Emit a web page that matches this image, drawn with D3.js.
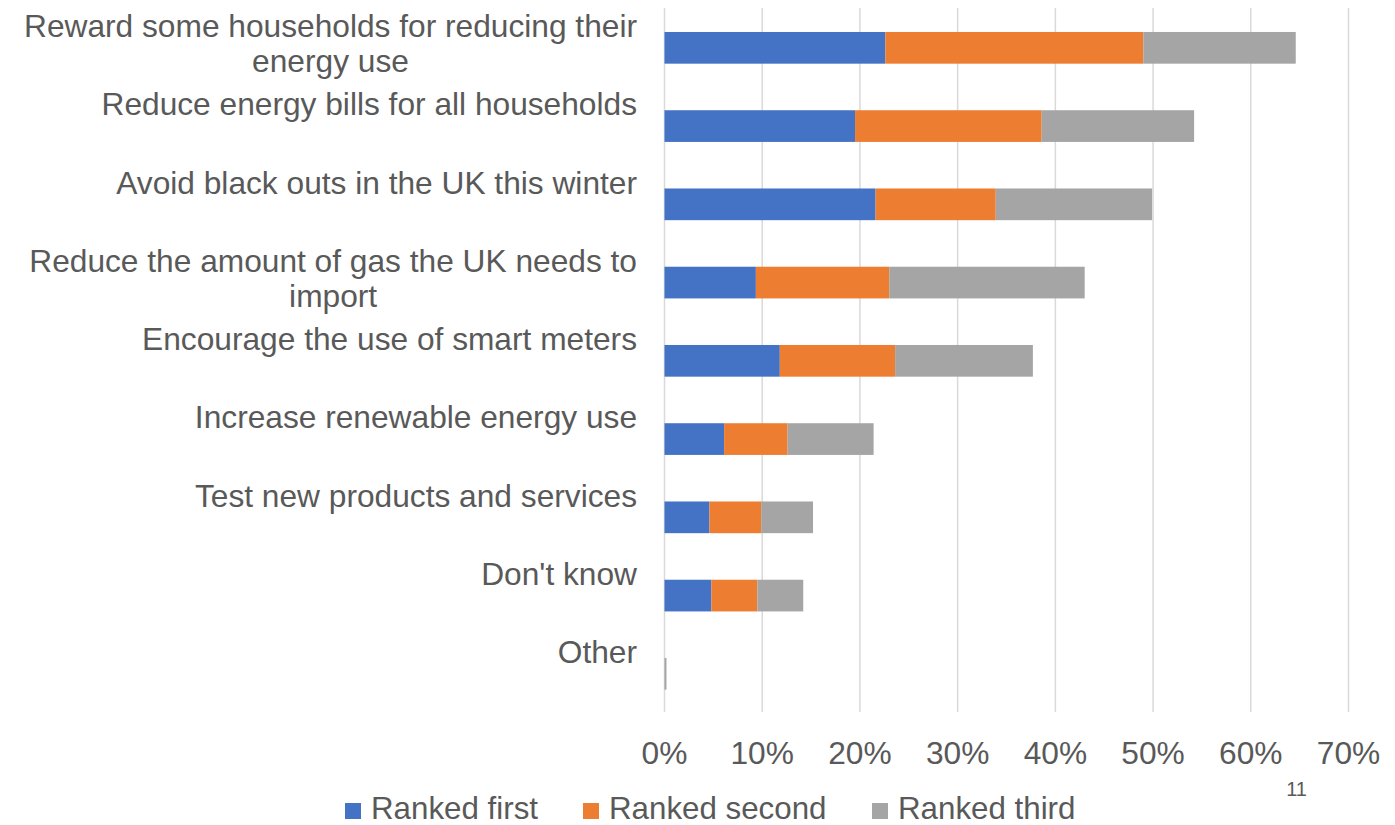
<!DOCTYPE html>
<html>
<head>
<meta charset="utf-8">
<script src="https://cdn.jsdelivr.net/npm/d3@7"></script>
<style>
  html, body { margin: 0; padding: 0; background: #ffffff; }
  svg { display: block; }
  text { font-family: "Liberation Sans", Arial, sans-serif; fill: #595959; }
</style>
</head>
<body>
<svg id="chart" width="1395" height="825"></svg>
<script>
// Survey answers, top to bottom; each label split into its display lines
const categories = [
  ["Reward some households for reducing their", "energy use"],
  ["Reduce energy bills for all households"],
  ["Avoid black outs in the UK this winter"],
  ["Reduce the amount of gas the UK needs to", "import"],
  ["Encourage the use of smart meters"],
  ["Increase renewable energy use"],
  ["Test new products and services"],
  ["Don't know"],
  ["Other"]
];

// Share of respondents (%) ranking each option
const rankedFirst  = [22.6, 19.5, 21.6, 9.35, 11.8, 6.1, 4.6, 4.8, 0];
const rankedSecond = [26.4, 19.1, 12.3, 13.65, 11.8, 6.5, 5.3, 4.7, 0];
const rankedThird  = [15.6, 15.6, 16.0, 20.0, 14.1, 8.8, 5.3, 4.7, 0.2];

const seriesNames = ["Ranked first", "Ranked second", "Ranked third"];
const seriesColors = ["#4472C4", "#ED7D31", "#A5A5A5"];
const tickValues = [0, 10, 20, 30, 40, 50, 60, 70];
const pageNumber = "11";

const FONT = 31.7;
const svg = d3.select("#chart");

const keys = categories.map((c, i) => "c" + i);
const rows = keys.map((k, i) => ({
  key: k,
  lines: categories[i],
  s0: rankedFirst[i],
  s1: rankedSecond[i],
  s2: rankedThird[i]
}));

const x = d3.scaleLinear().domain([0, 70]).range([664.5, 1348.5]);
const y = d3.scaleBand()
  .domain(keys)
  .range([8.7, 712.95])
  .paddingInner(0.595)
  .paddingOuter(0.2975);

// Vertical gridlines
svg.append("g")
  .selectAll("line")
  .data(tickValues)
  .join("line")
  .attr("x1", d => x(d))
  .attr("x2", d => x(d))
  .attr("y1", 8)
  .attr("y2", 712)
  .attr("stroke", "#D9D9D9")
  .attr("stroke-width", 1.5);

// Stacked bars
const stack = d3.stack().keys(["s0", "s1", "s2"]);
const layers = stack(rows);

svg.append("g")
  .selectAll("g")
  .data(layers)
  .join("g")
  .attr("fill", (d, i) => seriesColors[i])
  .selectAll("rect")
  .data(d => d)
  .join("rect")
  .attr("x", d => x(d[0]))
  .attr("width", d => Math.max(0, x(d[1]) - x(d[0])))
  .attr("y", d => y(d.data.key))
  .attr("height", y.bandwidth());

// Category labels (right aligned, first line sitting just above the bar centre)
const labelX = 637;
const labelG = svg.append("g");
rows.forEach(r => {
  const cy = y(r.key) + y.bandwidth() / 2;
  const t = labelG.append("text")
    .attr("font-size", FONT)
    .attr("y", cy - 10.8);
  r.lines.forEach((ln, j) => {
    t.append("tspan")
      .attr("x", labelX)
      .attr("dy", j === 0 ? 0 : 35)
      .attr("text-anchor", j === 0 ? "end" : "middle")
      .text(ln);
  });
});

// Second lines of wrapped labels are centred under the first line
labelG.selectAll("text").each(function () {
  const spans = d3.select(this).selectAll("tspan").nodes();
  if (spans.length > 1) {
    const w = spans[0].getComputedTextLength();
    spans.slice(1).forEach(s => d3.select(s).attr("x", labelX - w / 2));
  }
});

// X axis tick labels
svg.append("g")
  .selectAll("text")
  .data(tickValues)
  .join("text")
  .attr("x", d => x(d))
  .attr("y", 763.5)
  .attr("text-anchor", "middle")
  .attr("font-size", FONT)
  .text(d => d + "%");

// Legend
const legendX = [345, 583, 872];
const legend = svg.append("g")
  .selectAll("g")
  .data(seriesNames)
  .join("g")
  .attr("transform", (d, i) => `translate(${legendX[i]},0)`);
legend.append("rect")
  .attr("x", 0)
  .attr("y", 803)
  .attr("width", 16)
  .attr("height", 16)
  .attr("fill", (d, i) => seriesColors[i]);
legend.append("text")
  .attr("x", 26)
  .attr("y", 818.5)
  .attr("font-size", 31.3)
  .text(d => d);

// Page number
svg.append("text")
  .attr("x", 1307)
  .attr("y", 796)
  .attr("text-anchor", "end")
  .attr("font-size", 20)
  .text(pageNumber);
</script>
</body>
</html>
